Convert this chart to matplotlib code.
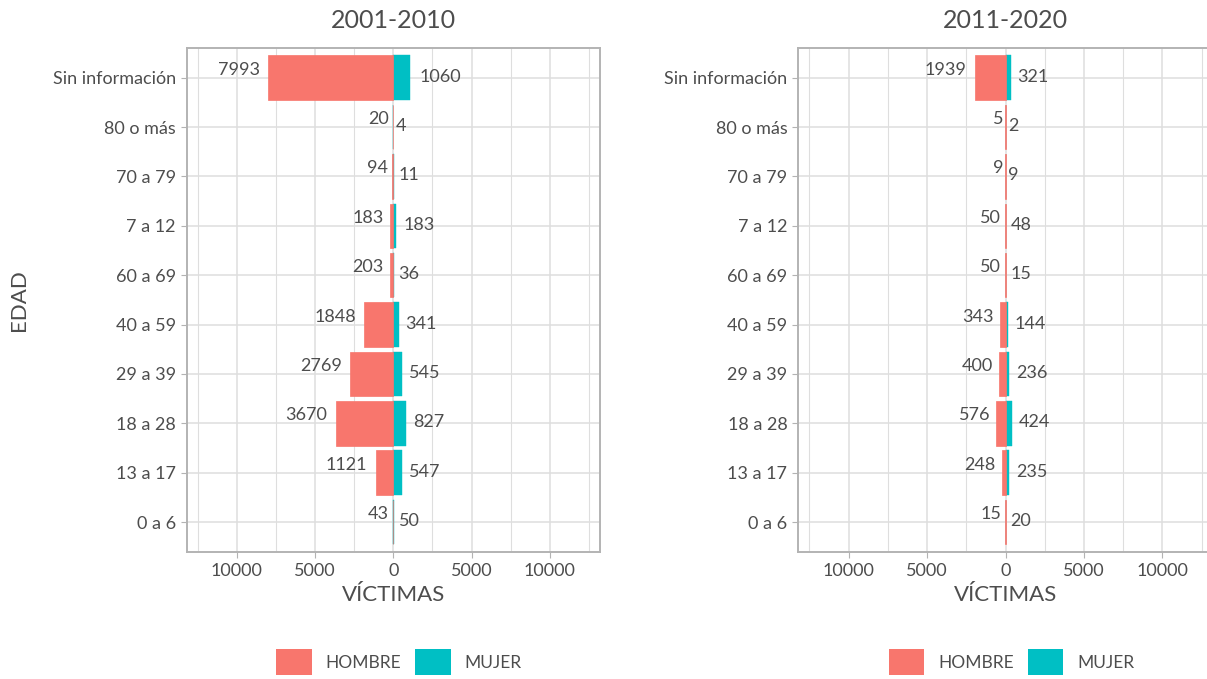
import matplotlib
matplotlib.use("Agg")
import matplotlib.pyplot as plt
from matplotlib.patches import Patch
from matplotlib.ticker import FixedLocator, FuncFormatter

plt.rcParams['font.family'] = ['Lato', 'DejaVu Sans']

# -----------------------------
# Data
# -----------------------------
edades = ["0 a 6", "13 a 17", "18 a 28", "29 a 39", "40 a 59",
          "60 a 69", "7 a 12", "70 a 79", "80 o más", "Sin información"]

hombre_2001 = [43, 1121, 3670, 2769, 1848, 203, 183, 94, 20, 7993]
mujer_2001 = [50, 547, 827, 545, 341, 36, 183, 11, 4, 1060]

hombre_2011 = [15, 248, 576, 400, 343, 50, 50, 9, 5, 1939]
mujer_2011 = [20, 235, 424, 236, 144, 15, 48, 9, 2, 321]

periodos = ["2001-2010", "2011-2020"]
sexos = ["HOMBRE", "MUJER"]

C_H = "#F8766D"
C_M = "#00BFC4"
TXT = "#4D4D4D"
GRID = "#DEDEDE"
BORDER = "#B3B3B3"

W, H = 1207, 679
fig = plt.figure(figsize=(W / 100, H / 100), dpi=100)


def px_axes(x0, x1, y0, y1):
    return fig.add_axes([x0 / W, 1 - y1 / H, (x1 - x0) / W, (y1 - y0) / H])


ax1 = px_axes(186.7, 600.0, 48, 551.7)
ax2 = px_axes(798.3, 1212.7, 48, 551.7)

labels_h = []
labels_m = []


def draw_panel(ax, titulo, hombre, mujer, ylabel):
    y = list(range(len(edades)))
    ax.barh(y, mujer, height=0.9, color=C_M,
            edgecolor=C_M, linewidth=0.3, zorder=3)
    ax.barh(y, [-v for v in hombre], height=0.9, color=C_H,
            edgecolor=C_H, linewidth=0.5, zorder=3)

    for yi, v in zip(y, hombre):
        t = ax.annotate(str(v), xy=(-v, yi), xytext=(0, 8),
                        textcoords='offset pixels', ha='right', va='center',
                        fontsize=13, color=TXT, zorder=4)
        labels_h.append(t)
    for yi, v in zip(y, mujer):
        t = ax.annotate(str(v), xy=(v, yi), xytext=(0, 1),
                        textcoords='offset pixels', ha='left', va='center',
                        fontsize=13, color=TXT, zorder=4)
        labels_m.append(t)

    ax.set_xlim(-13200, 13200)
    ax.set_ylim(-0.6, len(edades) - 0.4)
    ax.xaxis.set_major_locator(FixedLocator([-10000, -5000, 0, 5000, 10000]))
    ax.xaxis.set_minor_locator(FixedLocator([-12500, -7500, -2500, 2500, 7500, 12500]))
    ax.xaxis.set_major_formatter(FuncFormatter(lambda v, p: f"{abs(int(v))}"))
    ax.set_yticks(y)
    ax.set_yticklabels(edades)

    ax.grid(True, which='major', color=GRID, linewidth=1.1, zorder=0)
    ax.grid(True, which='minor', axis='x', color=GRID, linewidth=0.8, zorder=0)
    ax.set_axisbelow(True)

    ax.tick_params(which='major', length=4.3, width=0.8, color=BORDER,
                   labelsize=13, labelcolor=TXT, pad=3.5)
    ax.tick_params(which='minor', length=0)
    for s in ax.spines.values():
        s.set_color(BORDER)
        s.set_linewidth(1.4)

    ax.set_xlabel("VÍCTIMAS", fontsize=16, color=TXT)
    ax.xaxis.label.set_va('center')
    ax.xaxis.set_label_coords(0.5, -(595 - 551.7) / 503.7)
    if ylabel:
        ax.set_ylabel("EDAD", fontsize=16, color=TXT)
        ax.yaxis.label.set_va('center')
        ax.yaxis.set_label_coords(-(186.7 - 19) / 413.3, 0.5)

    ax.text(0.5, 1 + 27 / 503.7, titulo, transform=ax.transAxes,
            ha='center', va='center', fontsize=18, color=TXT)


draw_panel(ax1, periodos[0], hombre_2001, mujer_2001, True)
draw_panel(ax2, periodos[1], hombre_2011, mujer_2011, False)

# hjust-like gap: 20% of label width
fig.canvas.draw()
r = fig.canvas.get_renderer()
for t in labels_h:
    w = t.get_window_extent(r).width
    t.xyann = (-0.2 * w, 8)
for t in labels_m:
    w = t.get_window_extent(r).width
    t.xyann = (0.22 * w, 1)

handles = [Patch(facecolor=C_H, edgecolor='none'), Patch(facecolor=C_M, edgecolor='none')]
for cx in (399, 1011.5):
    fig.legend(handles, sexos, loc='center', bbox_to_anchor=(cx / W, 1 - 662 / H),
               ncol=2, frameon=False, fontsize=12.5, labelcolor=TXT,
               handlelength=2.05, handleheight=1.95, handletextpad=0.8,
               columnspacing=0.8, borderpad=0, borderaxespad=0)

fig.savefig("out.png", dpi=100)
